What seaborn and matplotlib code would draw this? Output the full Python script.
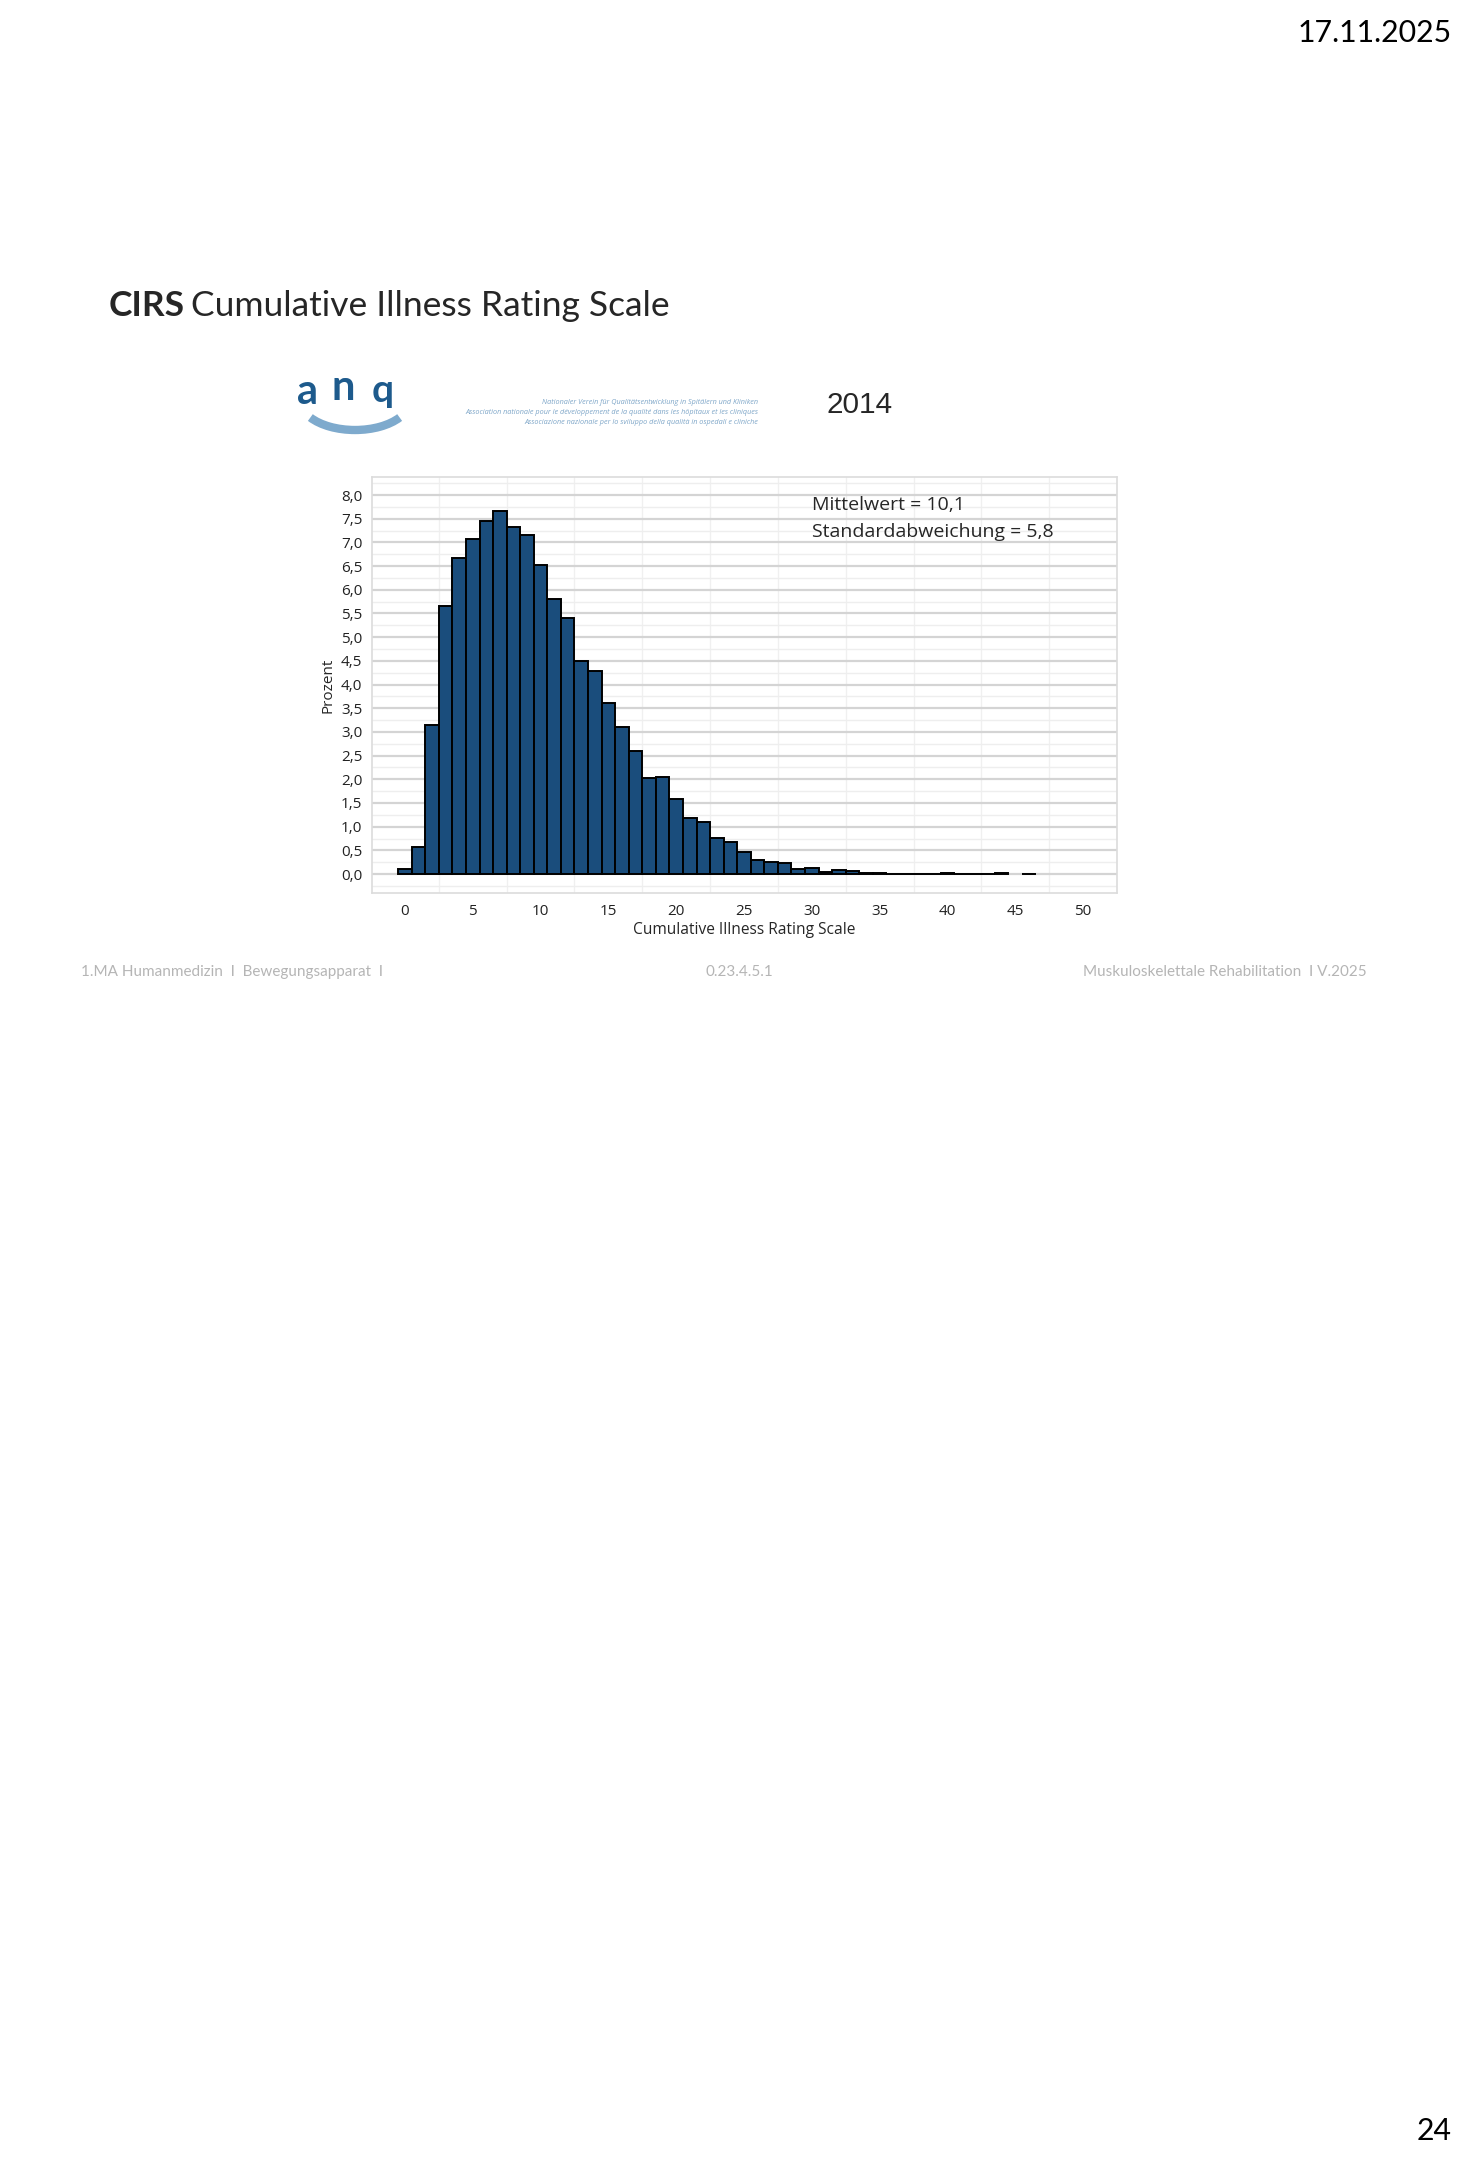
"""
CIRS histogram slide (ANQ 2014) - Cumulative Illness Rating Scale distribution.
"""
import numpy as np
import pandas as pd
import matplotlib
matplotlib.use("Agg")
import matplotlib.pyplot as plt
from matplotlib.patches import Arc
from matplotlib.ticker import MultipleLocator, FuncFormatter
import seaborn as sns

# =============================================================
# DATA (percent per CIRS score)
# =============================================================
scores = list(range(0, 47))
percent = [0.11, 0.57, 3.14, 5.65, 6.66, 7.07, 7.45, 7.66, 7.33, 7.16,
           6.52, 5.81, 5.41, 4.49, 4.28, 3.61, 3.11, 2.60, 2.02, 2.05,
           1.58, 1.18, 1.10, 0.77, 0.68, 0.46, 0.29, 0.26, 0.23, 0.11,
           0.13, 0.05, 0.09, 0.06, 0.03, 0.02, 0.01, 0.01, 0.005, 0.01,
           0.03, 0.01, 0.01, 0.01, 0.02, 0.0, 0.01]
x_ticks = list(range(0, 55, 5))
y_ticks = [i * 0.5 for i in range(17)]

stats_lines = ["Mittelwert = 10,1", "Standardabweichung = 5,8"]
footer_left = "1.MA Humanmedizin  I  Bewegungsapparat  I"
footer_mid = "0.23.4.5.1"
footer_right = "Muskuloskelettale Rehabilitation  I V.2025"
anq_lines = ["Nationaler Verein für Qualitätsentwicklung in Spitälern und Kliniken",
             "Association nationale pour le développement de la qualité dans les hôpitaux et les cliniques",
             "Associazione nazionale per lo sviluppo della qualità in ospedali e cliniche"]

df = pd.DataFrame({"score": scores, "pct": percent})

sns.set_style("white")
plt.rcParams['font.family'] = ['Open Sans', 'DejaVu Sans']

W, H = 1475, 2160
fig = plt.figure(figsize=(W / 100, H / 100), dpi=100)
fig.patch.set_facecolor("white")

def fx(px):
    return px / W

def fy(py):
    return 1 - py / H

# =============================================================
# SLIDE TEXT
# =============================================================
fig.text(fx(1452), fy(33), "17.11.2025", ha='right', va='center',
         fontsize=21.8, family=['Lato', 'DejaVu Sans'], color='black')
fig.text(fx(1452), fy(2131), "24", ha='right', va='center',
         fontsize=21.8, family=['Lato', 'DejaVu Sans'], color='black')

t1 = fig.text(fx(109), fy(306), "CIRS", ha='left', va='center',
              fontsize=25.5, fontweight='bold', family=['Lato', 'DejaVu Sans'])
fig.canvas.draw()
bb = t1.get_window_extent()
fig.text(bb.x1 / W + 0.004, fy(306), "Cumulative Illness Rating Scale",
         ha='left', va='center', fontsize=25.5, family=['Lato', 'DejaVu Sans'])

# ANQ logo (approximation)
fig.text(fx(297), fy(392), "a", ha='left', va='center', fontsize=30,
         fontweight='bold', color='#1d5a8c', family=['Lato', 'DejaVu Sans'])
fig.text(fx(332), fy(388), "n", ha='left', va='center', fontsize=30,
         fontweight='bold', color='#1d5a8c', family=['Lato', 'DejaVu Sans'])
fig.text(fx(372), fy(390), "q", ha='left', va='center', fontsize=28,
         fontweight='bold', color='#1d5a8c', family=['Lato', 'DejaVu Sans'])
fig.patches.append(Arc((fx(355), fy(400)), fx(110), 60 / H, theta1=195, theta2=345,
                       transform=fig.transFigure, color='#7eaacd', lw=6))
for i, line in enumerate(anq_lines):
    fig.text(fx(758), fy(402 + 10 * i), line, ha='right', va='center',
             fontsize=5.2, style='italic', color='#7ea6c8')

fig.text(fx(826), fy(405), "2014", ha='left', va='center', fontsize=21.4,
         family=['Liberation Sans', 'DejaVu Sans'])

fig.text(fx(81), fy(972), footer_left, ha='left', va='center',
         fontsize=11, color='#b5b5b5', family=['Lato', 'DejaVu Sans'])
fig.text(fx(739), fy(972), footer_mid, ha='center', va='center',
         fontsize=11, color='#b5b5b5', family=['Lato', 'DejaVu Sans'])
fig.text(fx(1367), fy(972), footer_right, ha='right', va='center',
         fontsize=11, color='#b5b5b5', family=['Lato', 'DejaVu Sans'])

# =============================================================
# HISTOGRAM
# =============================================================
ax = fig.add_axes([fx(372), fy(893), fx(1117) - fx(372), fy(477) - fy(893)])
sns.histplot(data=df, x="score", weights="pct", discrete=True, ax=ax,
             color='#1a4d7c', alpha=1, edgecolor='black', linewidth=1.4)
for p in ax.patches:
    if p.get_height() <= 0:
        p.set_visible(False)

ax.set_xlim(-2.43, 52.5)
ax.set_ylim(-0.4, 8.38)
ax.set_xticks(x_ticks)
ax.set_yticks(y_ticks)
ax.yaxis.set_major_formatter(FuncFormatter(lambda v, _: f"{v:.1f}".replace('.', ',')))
ax.yaxis.set_minor_locator(MultipleLocator(0.25))
ax.set_xticks([2.5 + 5 * k for k in range(11)], minor=True)
ax.grid(which='major', axis='y', color='#d4d4d4', lw=1.6)
ax.grid(which='minor', axis='y', color='#eeeeee', lw=1.0)
ax.grid(which='minor', axis='x', color='#f0f0f0', lw=1.0)
ax.set_axisbelow(True)
ax.tick_params(which='both', length=0, labelsize=11, colors='#222222')
ax.tick_params(axis='y', pad=7)
ax.tick_params(axis='x', pad=8)
for s in ax.spines.values():
    s.set_color('#dcdcdc')
    s.set_linewidth(1.2)
ax.set_xlabel("Cumulative Illness Rating Scale", fontsize=11.2, labelpad=2)
ax.set_ylabel("Prozent", fontsize=11, labelpad=4)

ax.text(0.59, 0.932, stats_lines[0], transform=ax.transAxes, fontsize=14,
        ha='left', va='center')
ax.text(0.59, 0.867, stats_lines[1], transform=ax.transAxes, fontsize=14,
        ha='left', va='center')

fig.savefig("out.png", dpi=100, facecolor='white')
